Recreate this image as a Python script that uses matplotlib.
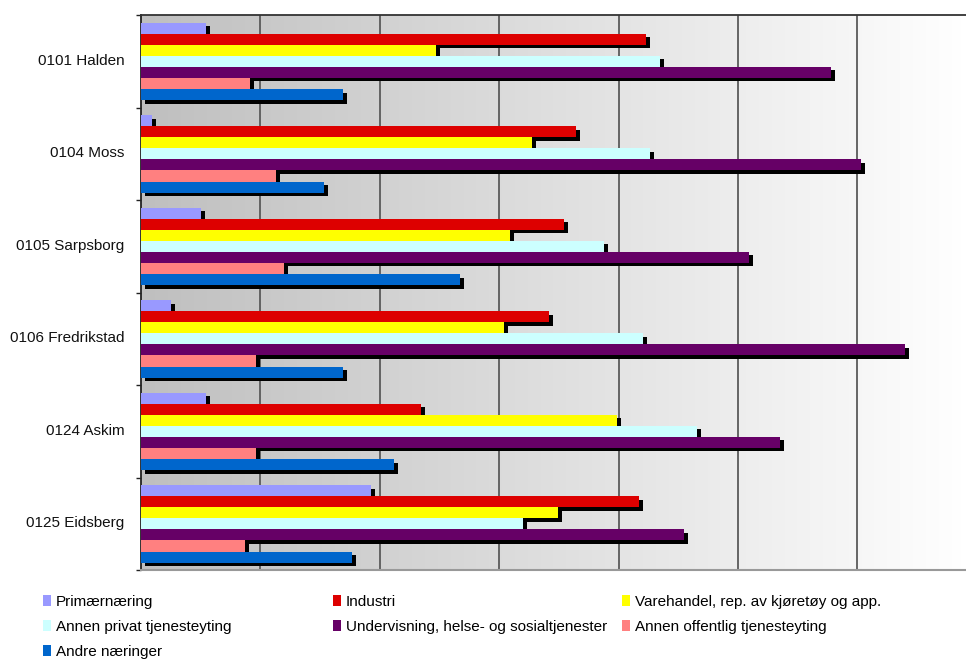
import numpy as np
import matplotlib
matplotlib.use("Agg")
import matplotlib.pyplot as plt
from matplotlib.transforms import ScaledTranslation
from matplotlib.patches import Patch

plt.rcParams['font.family'] = ['Liberation Sans', 'DejaVu Sans']

# Municipalities (top to bottom)
kommuner = ["0101 Halden", "0104 Moss", "0105 Sarpsborg",
            "0106 Fredrikstad", "0124 Askim", "0125 Eidsberg"]

# Share of employment by industry, per municipality (same order as above)
primaer = [2.72, 0.46, 2.51, 1.26, 2.72, 9.62]
industri = [21.13, 18.23, 17.73, 17.09, 11.74, 20.87]
varehandel = [12.34, 16.39, 15.47, 15.21, 19.95, 17.48]
annen_privat = [21.72, 21.30, 19.40, 21.04, 23.30, 16.01]
undervisning = [28.91, 30.17, 25.48, 31.98, 26.74, 22.76]
annen_offentlig = [4.56, 5.65, 5.98, 4.81, 4.81, 4.35]
andre = [8.45, 7.66, 13.37, 8.45, 10.60, 8.83]

serie_navn = ["Primærnæring", "Industri", "Varehandel, rep. av kjøretøy og app.",
              "Annen privat tjenesteyting", "Undervisning, helse- og sosialtjenester",
              "Annen offentlig tjenesteyting", "Andre næringer"]
serie_verdier = [primaer, industri, varehandel, annen_privat,
                 undervisning, annen_offentlig, andre]
farger = ["#9999ff", "#dd0000", "#ffff00", "#ccffff", "#660066", "#ff8080", "#0066cc"]

fig = plt.figure(figsize=(9.66, 6.60), dpi=100)
ax = fig.add_axes([141 / 966, 1 - 570 / 660, 825 / 966, 555 / 660])

xmax = 34.55
ax.set_xlim(0, xmax)
ax.set_ylim(len(kommuner) - 0.5, -0.5)

# Grey-to-white horizontal gradient behind the bars
grad = np.linspace(0, 1, 256).reshape(1, -1)
ax.imshow(grad, extent=[0, xmax, len(kommuner) - 0.5, -0.5], aspect='auto',
          cmap=matplotlib.colors.LinearSegmentedColormap.from_list(
              "bg", ["#bfbfbf", "#ffffff"]), zorder=0, interpolation='bilinear')

# Vertical grid lines
for gx in np.arange(5, 31, 5):
    ax.axvline(gx, color="#5a5a5a", lw=1.3, zorder=1)

h = 0.119
first = -0.5 + 0.086 + h / 2
y = np.arange(len(kommuner))

shadow_tr = ax.transData + ScaledTranslation(4 / 100, -3.5 / 100, fig.dpi_scale_trans)
for j, vals in enumerate(serie_verdier):
    ax.barh(y + first + j * h, vals, height=h, color="black", linewidth=0,
            transform=shadow_tr, zorder=2)

handles = []
for j, (vals, navn, farge) in enumerate(zip(serie_verdier, serie_navn, farger)):
    ax.barh(y + first + j * h, vals, height=h, color=farge, linewidth=0,
            zorder=3, label=navn)
    handles.append(Patch(facecolor=farge, edgecolor="none", label=navn))

# Axes frame
ax.spines["right"].set_visible(False)
ax.spines["top"].set_color("#333333")
ax.spines["top"].set_linewidth(1.3)
ax.spines["left"].set_color("#222222")
ax.spines["left"].set_linewidth(1.3)
ax.spines["bottom"].set_color("#999999")
ax.spines["bottom"].set_linewidth(1.5)

ax.set_xticks([])
ax.set_yticks(y)
ax.set_yticklabels(kommuner, fontsize=11, color="#111111")
ax.tick_params(axis="y", which="major", length=0, pad=12)
ax.set_yticks(np.arange(-0.5, len(kommuner), 1), minor=True)
ax.tick_params(axis="y", which="minor", length=3.8, width=1, color="#222222",
               direction="out")
lift = ScaledTranslation(0, 2 / 100, fig.dpi_scale_trans)
for lbl in ax.get_yticklabels():
    lbl.set_transform(lbl.get_transform() + lift)

# Legend laid out in three columns at fixed positions
kolonner = [[0, 3, 6], [1, 4], [2, 5]]
kol_x = [43 / 966, 333 / 966, 622 / 966]
for idx, x0 in zip(kolonner, kol_x):
    fig.legend(handles=[handles[i] for i in idx], loc="upper left",
               bbox_to_anchor=(x0, 1 - 595 / 660), frameon=False,
               fontsize=11, handlelength=0.55, handleheight=0.75,
               handletextpad=0.3, labelspacing=0.72, borderpad=0,
               borderaxespad=0)

fig.savefig("out.png", dpi=100)
